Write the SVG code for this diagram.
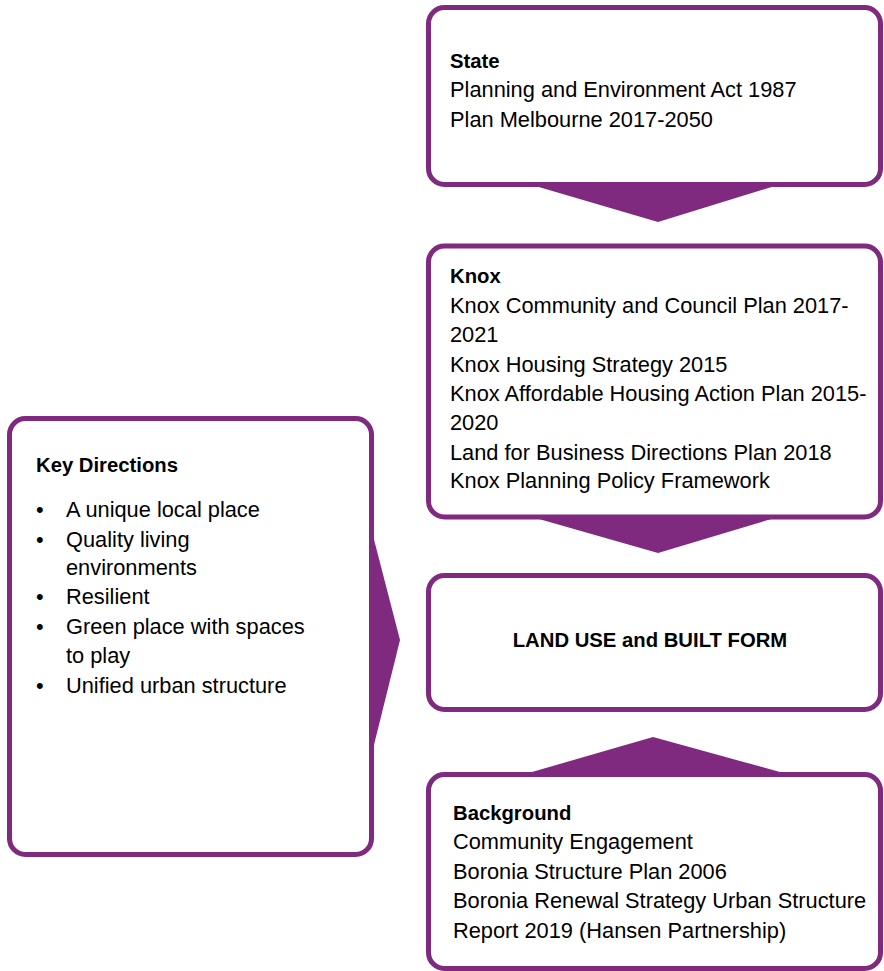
<svg xmlns="http://www.w3.org/2000/svg" width="884" height="971" viewBox="0 0 884 971">
<style>
.box{fill:#fff;stroke:#7f297f;stroke-width:5}
.arr{fill:#7f297f}
text{font-family:"Liberation Sans",Arial,sans-serif;font-size:21.8px;fill:#000}
.b{font-weight:bold;font-size:20.3px}
</style>
<rect width="884" height="971" fill="#fff"/>
<g id="connectors">
<polygon class="arr" points="532,185 778,185 658,222"/>
<polygon class="arr" points="532,517 778,517 658,553"/>
<polygon class="arr" points="532,772 780,772 653,737"/>
<polygon class="arr" points="371,528 371,757 400,640"/>
</g>
<g id="state">
<rect class="box" x="428.5" y="7.5" width="452" height="177" rx="16"/>
<text x="450" y="68" class="b">State</text>
<text x="450" y="97">Planning and Environment Act 1987</text>
<text x="450" y="127">Plan Melbourne 2017-2050</text>
</g>
<g id="knox">
<rect class="box" x="428.5" y="246" width="452" height="271" rx="16"/>
<text x="450" y="283" class="b">Knox</text>
<text x="450" y="313">Knox Community and Council Plan 2017-</text>
<text x="450" y="342">2021</text>
<text x="450" y="372">Knox Housing Strategy 2015</text>
<text x="450" y="401">Knox Affordable Housing Action Plan 2015-</text>
<text x="450" y="430">2020</text>
<text x="450" y="460">Land for Business Directions Plan 2018</text>
<text x="450" y="488">Knox Planning Policy Framework</text>
</g>
<g id="landuse">
<rect class="box" x="428.5" y="575.5" width="452" height="134" rx="16"/>
<text x="650" y="647" class="b" text-anchor="middle">LAND USE and BUILT FORM</text>
</g>
<g id="background">
<rect class="box" x="428.5" y="774.5" width="452" height="194" rx="16"/>
<text x="453" y="820" class="b">Background</text>
<text x="453" y="849">Community Engagement</text>
<text x="453" y="879">Boronia Structure Plan 2006</text>
<text x="453" y="908">Boronia Renewal Strategy Urban Structure</text>
<text x="453" y="938">Report 2019 (Hansen Partnership)</text>
</g>
<g id="keydirections">
<rect class="box" x="9.5" y="418.5" width="362" height="436" rx="16"/>
<text x="36" y="472" class="b">Key Directions</text>
<text x="36" y="517">•</text><text x="66" y="517">A unique local place</text>
<text x="36" y="547">•</text><text x="66" y="547">Quality living</text>
<text x="66" y="575">environments</text>
<text x="36" y="604">•</text><text x="66" y="604">Resilient</text>
<text x="36" y="634">•</text><text x="66" y="634">Green place with spaces</text>
<text x="66" y="663">to play</text>
<text x="36" y="693">•</text><text x="66" y="693">Unified urban structure</text>
</g>
</svg>
